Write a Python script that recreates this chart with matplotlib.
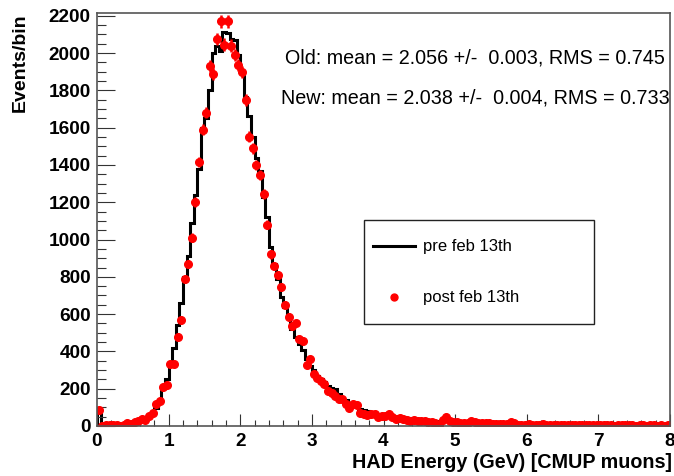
import numpy as np
import matplotlib
matplotlib.use("Agg")
import matplotlib.pyplot as plt
from matplotlib.lines import Line2D
from matplotlib.patches import Rectangle

plt.rcParams['font.family'] = ['Liberation Sans', 'DejaVu Sans']

# histogram binning: 160 bins of 0.05 GeV from 0 to 8
x_lo, x_hi, n_bins = 0.0, 8.0, 160
edges = np.linspace(x_lo, x_hi, n_bins + 1)
centers = 0.5 * (edges[:-1] + edges[1:])

# pre feb 13th (black histogram), events per bin
pre_counts = [
    80, 5, 4, 3, 3, 3, 5, 8, 12, 17,
    22, 28, 38, 48, 60, 75, 95, 140, 205, 250,
    330, 420, 540, 660, 800, 910, 1090, 1240, 1380, 1600,
    1650, 1800, 2000, 2040, 2010, 2115, 2110, 2075, 2070, 1990,
    1900, 1765, 1660, 1550, 1440, 1370, 1230, 1120, 960, 870,
    790, 690, 640, 590, 520, 480, 440, 410, 360, 320,
    300, 270, 250, 235, 215, 205, 198, 170, 150, 140,
    125, 118, 110, 90, 85, 80, 72, 68, 65, 64,
    60, 58, 54, 52, 48, 46, 45, 42, 40, 37,
    35, 33, 31, 30, 28, 28, 27, 26, 25, 26,
    24, 23, 22, 21, 20, 19, 19, 18, 17, 16,
    15, 15, 14, 13, 13, 12, 12, 11, 11, 10,
    10, 9, 9, 9, 8, 8, 8, 7, 7, 7,
    7, 6, 6, 6, 6, 5, 5, 5, 5, 5,
    5, 5, 4, 4, 4, 4, 4, 4, 3, 3,
    3, 3, 3, 3, 3, 3, 2, 2, 2, 2,
]

# post feb 13th (red points), events per bin
post_counts = [
    85, 2, 8, 6, 4, 3, 2, 6, 14, 12,
    20, 28, 40, 30, 55, 70, 117, 135, 210, 222,
    335, 330, 480, 570, 790, 870, 1010, 1200, 1415, 1590,
    1680, 1930, 1890, 2075, 2170, 2045, 2170, 2040, 1990, 1935,
    1900, 1750, 1550, 1490, 1400, 1345, 1245, 1080, 920, 860,
    811, 747, 651, 587, 534, 552, 468, 454, 325, 358,
    280, 258, 240, 224, 187, 178, 160, 144, 144, 120,
    95, 117, 115, 72, 66, 60, 64, 62, 46, 52,
    55, 64, 48, 37, 44, 36, 33, 27, 30, 28,
    27, 28, 24, 22, 15, 3, 30, 46, 26, 20,
    22, 18, 15, 17, 27, 20, 16, 14, 15, 18,
    12, 13, 10, 12, 11, 22, 18, 5, 3, 8,
    9, 6, 8, 5, 10, 7, 4, 6, 8, 5,
    7, 4, 6, 5, 3, 5, 7, 4, 5, 6,
    4, 3, 5, 4, 2, 6, 3, 4, 3, 5,
    2, 4, 3, 2, 4, 3, 2, 3, 2, 3,
]
post_err = 0.75 * np.sqrt(post_counts)

legend_labels = ["pre feb 13th", "post feb 13th"]
stats_old = "Old: mean = 2.056 +/-  0.003, RMS = 0.745"
stats_new = "New: mean = 2.038 +/-  0.004, RMS = 0.733"

fig = plt.figure(figsize=(6.74, 4.76), dpi=100)
ax = fig.add_axes([97 / 674, 50 / 476, 573 / 674, 413 / 476])

ax.stairs(pre_counts, edges, baseline=0, color="black", lw=2.2)
ax.errorbar(centers, post_counts, yerr=post_err, fmt="o", color="red",
            ms=5.5, elinewidth=1.8, capsize=0)

ax.set_xlim(x_lo, x_hi)
ax.set_ylim(0, 2215)
ax.set_xticks(np.arange(0, 9, 1))
ax.set_xticks(np.arange(0, 8.01, 0.2), minor=True)
ax.set_yticks(np.arange(0, 2201, 200))
ax.set_yticks(np.arange(0, 2201, 50), minor=True)

ax.tick_params(axis="both", which="both", direction="in", color="#333333",
               width=0.8, top=False, right=False)
ax.tick_params(axis="y", which="major", length=13, pad=4.5)
ax.tick_params(axis="y", which="minor", length=6.5)
ax.tick_params(axis="x", which="major", length=8.6, pad=5)
ax.tick_params(axis="x", which="minor", length=4.3)
for lab in ax.get_xticklabels() + ax.get_yticklabels():
    lab.set_fontsize(13.7)
    lab.set_fontweight("bold")
for side in ax.spines.values():
    side.set_color("#555555")
    side.set_linewidth(1.2)

# legend: entries without frame, plus a plain rectangular box
handles = [Line2D([], [], color="black", lw=2.2),
           Line2D([], [], color="red", marker="o", ms=5, ls="none")]
leg = ax.legend(handles, legend_labels, loc="upper left",
                bbox_to_anchor=(0.4817, 0.4516), fontsize=12, frameon=False,
                borderpad=0, borderaxespad=0, labelspacing=2.16,
                handlelength=2.5, handletextpad=0.5)
ax.add_patch(Rectangle((0.466, 0.247), 0.4014, 0.2518, transform=ax.transAxes,
                       fill=False, edgecolor="#222222", lw=1.0, zorder=5))

fig.text(475 / 674, 1 - 58 / 476, stats_old, ha="center", va="center", fontsize=14.2)
fig.text(475 / 674, 1 - 98 / 476, stats_new, ha="center", va="center", fontsize=14.2)

fig.text(20 / 674, 1 - 13 / 476, "Events/bin", rotation=90, ha="center", va="top",
         fontsize=14, fontweight="bold")
fig.text(672 / 674, 1 - 462 / 476, "HAD Energy (GeV) [CMUP muons]", ha="right",
         va="center", fontsize=14.2, fontweight="bold")

fig.savefig("out.png", dpi=100)
